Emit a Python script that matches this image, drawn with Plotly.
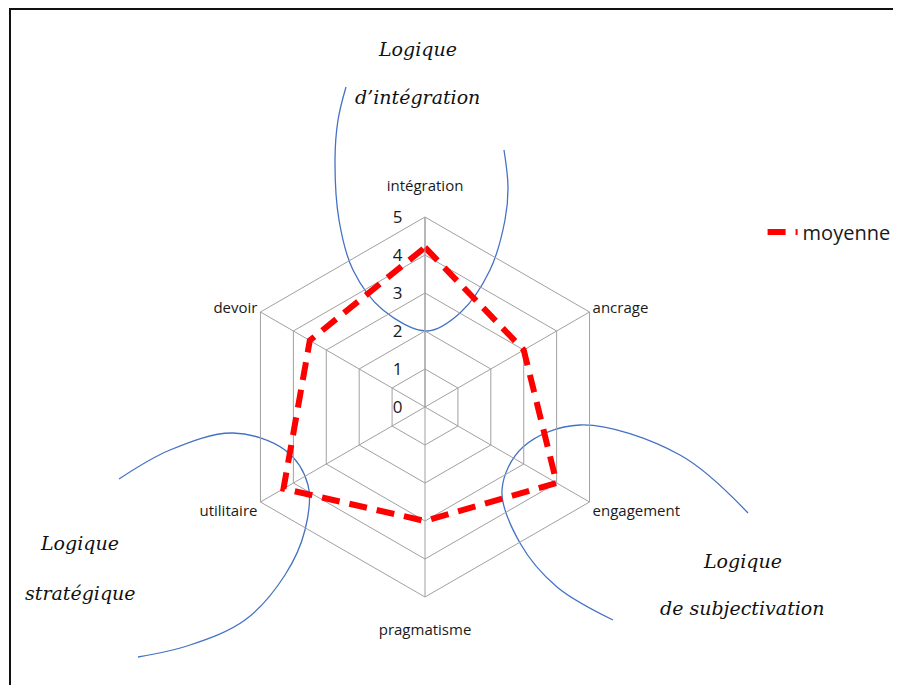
import plotly.graph_objects as go

# radar data
categories = ['intégration', 'ancrage', 'engagement', 'pragmatisme', 'utilitaire', 'devoir']
moyenne = [4.2, 3.0, 4.0, 3.0, 4.3, 3.5]
radial_ticks = [0, 1, 2, 3, 4, 5]

# hand-drawn blue arcs (pixel positions on the page), and their captions
arc_integration = [(346, 87), (338, 120), (335, 160), (339, 220), (353, 270), (383, 310),
                   (427, 331), (460, 313), (490, 270), (505, 220), (508, 187), (504, 150)]
arc_strategique = [(119, 479), (170, 450), (233, 433), (285, 450), (308, 485), (305, 530),
                   (285, 575), (245, 620), (190, 645), (138, 657)]
arc_subjectivation = [(748, 513), (680, 455), (580, 425), (523, 447), (502, 490), (520, 543),
                      (557, 587), (613, 620)]
captions = [('Logique', 417, 49), ('d’intégration', 417, 97),
            ('Logique', 79, 543), ('stratégique', 80, 593),
            ('Logique', 742, 561), ('de subjectivation', 742, 608)]

# the page has an 8px body margin, so the figure starts at (8, 8)
OFF = 8
W, H = 901 - OFF, 685 - OFF
cx, cy, R = 425 - OFF, 407 - OFF, 190

# top and bottom labels sit a bit further from the hexagon
pad = '<span style="font-size:7px"> </span>'
tick_text = [c + '<br>' + pad if c == 'intégration' else (pad + '<br>' + c if c == 'pragmatisme' else c)
             for c in categories]

fig = go.Figure()

for arc in [arc_integration, arc_strategique, arc_subjectivation]:
    fig.add_trace(go.Scatter(x=[p[0] for p in arc], y=[p[1] for p in arc], mode='lines',
                             line=dict(color='#4472c4', width=1.3, shape='spline', smoothing=1.0),
                             showlegend=False, hoverinfo='skip', xaxis='x', yaxis='y'))

fig.add_trace(go.Scatterpolar(r=moyenne + moyenne[:1], theta=categories + categories[:1],
                              mode='lines', name='moyenne',
                              line=dict(color='#ff0000', width=6, dash='18px,10px')))

for txt, x, y in captions:
    fig.add_annotation(x=x, y=y, xref='x', yref='y', text=txt, showarrow=False,
                       font=dict(family='DejaVu Serif', size=19, color='#111111', style='italic'))

fig.add_shape(type='rect', xref='x', yref='y', x0=10, x1=897, y0=9, y1=700,
              line=dict(color='#111111', width=2))

fig.update_layout(
    width=W, height=H, margin=dict(l=0, r=0, t=0, b=0),
    paper_bgcolor='white', plot_bgcolor='white',
    xaxis=dict(range=[OFF, 901], domain=[0, 1], visible=False, fixedrange=True),
    yaxis=dict(range=[685, OFF], domain=[0, 1], visible=False, fixedrange=True),
    polar=dict(
        domain=dict(x=[(cx - R) / W, (cx + R) / W], y=[(H - cy - R) / H, (H - cy + R) / H]),
        bgcolor='rgba(0,0,0,0)', gridshape='linear',
        radialaxis=dict(range=[0, 5], tickvals=radial_ticks, angle=90, tickangle=90,
                        side='counterclockwise', showline=True, linecolor='#a0a0a0', linewidth=1,
                        gridcolor='#a0a0a0', gridwidth=1, ticks='outside', ticklen=16,
                        tickcolor='rgba(0,0,0,0)',
                        tickfont=dict(family='Open Sans', size=17, color='#1a1a1a')),
        angularaxis=dict(rotation=90, direction='clockwise', showline=True, linecolor='#a0a0a0',
                         linewidth=1, gridcolor='#a0a0a0', ticks='',
                         tickmode='array', tickvals=categories, ticktext=tick_text,
                         tickfont=dict(family='Open Sans', size=15, color='#1a1a1a')),
    ),
    showlegend=True,
    legend=dict(x=0.845, y=0.669, xanchor='left', yanchor='middle', bgcolor='rgba(0,0,0,0)',
                font=dict(family='Open Sans', size=20, color='#1a1a1a')),
)

fig.write_html('out.html')
